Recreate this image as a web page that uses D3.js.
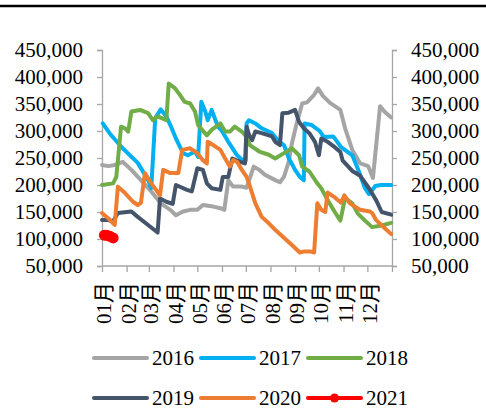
<!DOCTYPE html>
<html>
<head>
<meta charset="utf-8">
<script src="https://cdn.jsdelivr.net/npm/d3@7"></script>
<style>
  html, body { margin: 0; padding: 0; background: #fff; }
  svg text { font-family: "Liberation Serif", "Times New Roman", "Noto Sans CJK SC", serif; fill: #000; }
</style>
</head>
<body>
<svg id="chart" width="486" height="410"></svg>
<script>
// ---- data (day of year, value in thousands) ----
const monthLabels = ["01月","02月","03月","04月","05月","06月","07月","08月","09月","10月","11月","12月"];
const monthStartDays = [0,31,59,90,120,151,181,212,243,273,304,334,365];
const yTicks = [50000,100000,150000,200000,250000,300000,350000,400000,450000];
const seriesNames = ["2016","2017","2018","2019","2020","2021"];

const s2016 = [[0,237],[8,235],[16,237],[26,243],[37,228],[49,209],[62,188],[74,166],[86,154],[93,144],[102,151],[111,154],[120,154],[127,163],[140,160],[149,157],[154,154],[159,209],[165,197],[176,197],[182,195],[191,234],[198,228],[205,219],[218,209],[224,205],[229,215],[235,243],[239,277],[245,314],[252,351],[258,353],[267,367],[272,379],[278,365],[287,352],[300,339],[306,305],[315,265],[325,240],[335,235],[341,213],[350,346],[356,335],[364,325]];
const s2017 = [[1,314],[11,293],[26,268],[45,241],[58,209],[62,194],[67,324],[74,340],[81,327],[86,311],[94,283],[102,259],[108,255],[117,262],[121,252],[125,354],[130,336],[133,320],[138,339],[146,308],[151,300],[159,280],[170,255],[177,246],[181,246],[182,314],[185,320],[193,314],[201,305],[214,296],[223,280],[229,274],[235,250],[243,228],[249,215],[254,209],[255,314],[264,311],[274,300],[279,289],[291,290],[301,270],[315,255],[322,230],[331,194],[336,183],[344,198],[351,200],[364,200]];
const s2018 = [[0,200],[14,203],[18,215],[24,308],[29,305],[33,299],[37,336],[48,339],[58,333],[64,320],[70,327],[81,320],[84,388],[92,379],[98,367],[104,354],[111,351],[117,336],[121,311],[126,302],[132,292],[138,302],[149,314],[155,299],[161,299],[167,308],[176,299],[182,289],[186,274],[198,262],[210,256],[218,249],[229,259],[239,268],[248,255],[252,234],[261,225],[271,203],[276,194],[284,172],[293,150],[300,134],[306,176],[315,166],[322,147],[331,134],[340,122],[352,125],[364,130]];
const s2019 = [[0,135],[8,135],[14,133],[20,148],[37,151],[45,141],[58,126],[70,112],[73,175],[81,169],[89,165],[93,200],[107,191],[113,188],[120,231],[127,228],[132,203],[138,194],[149,191],[152,215],[159,215],[164,249],[174,243],[180,240],[182,308],[185,293],[189,283],[193,299],[201,296],[214,290],[218,280],[224,274],[227,333],[235,334],[243,339],[248,317],[254,305],[261,296],[268,280],[273,255],[276,286],[284,280],[293,270],[300,261],[303,245],[315,226],[325,217],[336,194],[345,172],[352,150],[364,145]];
const s2020 = [[0,148],[8,138],[16,126],[20,197],[29,185],[39,169],[45,163],[49,167],[54,222],[62,203],[73,181],[77,228],[86,222],[96,222],[101,265],[111,268],[120,259],[127,246],[132,240],[133,280],[140,274],[149,265],[155,249],[161,234],[165,246],[170,243],[176,228],[182,215],[185,203],[193,166],[201,141],[210,129],[218,117],[230,101],[239,89],[249,75],[255,77],[262,77],[267,75],[271,166],[276,154],[281,150],[284,186],[293,177],[301,167],[305,181],[312,166],[325,154],[337,151],[340,148],[345,135],[356,120],[364,109]];
const s2021 = [[3,107],[6,107],[10,105],[14,102]];

const allSeries = [s2016, s2017, s2018, s2019, s2020, s2021];
const colors = ["#A5A5A5","#00B0F0","#70AD47","#44546A","#ED7D31","#FF0000"];

// ---- layout ----
const svg = d3.select("#chart");
const pL = 102, pR = 392, pT = 50, pB = 266;
const x = d3.scaleLinear().domain([0,365]).range([pL,pR]);
const y = d3.scaleLinear().domain([50000,450000]).range([pB,pT]);
const fmt = d3.format(",");
const axisColor = "#A6A6A6";
const fs = 21;

// top rule
svg.append("line").attr("x1",0).attr("x2",486).attr("y1",6).attr("y2",6)
  .attr("stroke","#000").attr("stroke-width",2.5);

// left axis
const gl = svg.append("g").attr("transform",`translate(${pL},0)`)
  .call(d3.axisLeft(y).tickValues(yTicks).tickFormat(fmt).tickSize(5).tickPadding(14));
// right axis
const gr = svg.append("g").attr("transform",`translate(${pR},0)`)
  .call(d3.axisRight(y).tickValues(yTicks).tickFormat(fmt).tickSize(5).tickPadding(14));
// bottom axis
const gb = svg.append("g").attr("transform",`translate(0,${pB})`)
  .call(d3.axisBottom(x).tickValues(monthStartDays).tickFormat("").tickSize(6));

[gl, gr, gb].forEach(g => {
  g.select(".domain").attr("stroke",axisColor).attr("stroke-width",1.3);
  g.selectAll(".tick line").attr("stroke",axisColor).attr("stroke-width",1.3);
  g.selectAll("text").style("font-size",fs+"px").attr("fill","#000");
});
gb.select(".domain").attr("d",`M${pL},0H${pR}`);

// month labels rotated
svg.append("g").selectAll("text").data(monthLabels).join("text")
  .attr("transform",(d,i)=>`translate(${x(monthStartDays[i])+2},282) rotate(-90)`)
  .attr("text-anchor","end")
  .attr("dy","0.35em")
  .style("font-size",fs+"px")
  .text(d=>d);

// lines
const line = d3.line().x(d=>x(d[0])).y(d=>y(d[1]*1000));
allSeries.forEach((s,i)=>{
  svg.append("path").datum(s).attr("d",line).attr("fill","none")
    .attr("stroke",colors[i]).attr("stroke-width",4)
    .attr("stroke-linejoin","round").attr("stroke-linecap","round");
});
// 2021 markers
svg.append("g").selectAll("circle").data(s2021).join("circle")
  .attr("cx",d=>x(d[0])).attr("cy",d=>y(d[1]*1000)).attr("r",5.5).attr("fill",colors[5]);

// legend
const legX = [94, 201, 308];
const legY = [358, 398];
seriesNames.forEach((name,i)=>{
  const lx = legX[i%3], ly = legY[Math.floor(i/3)];
  const g = svg.append("g");
  g.append("line").attr("x1",lx).attr("x2",lx+53).attr("y1",ly).attr("y2",ly)
    .attr("stroke",colors[i]).attr("stroke-width",4).attr("stroke-linecap","round");
  if (i===5) g.append("circle").attr("cx",lx+26.5).attr("cy",ly).attr("r",4.5).attr("fill",colors[i]);
  g.append("text").attr("x",lx+58).attr("y",ly).attr("dy","0.35em")
    .style("font-size",fs+"px").text(name);
});
</script>
</body>
</html>
